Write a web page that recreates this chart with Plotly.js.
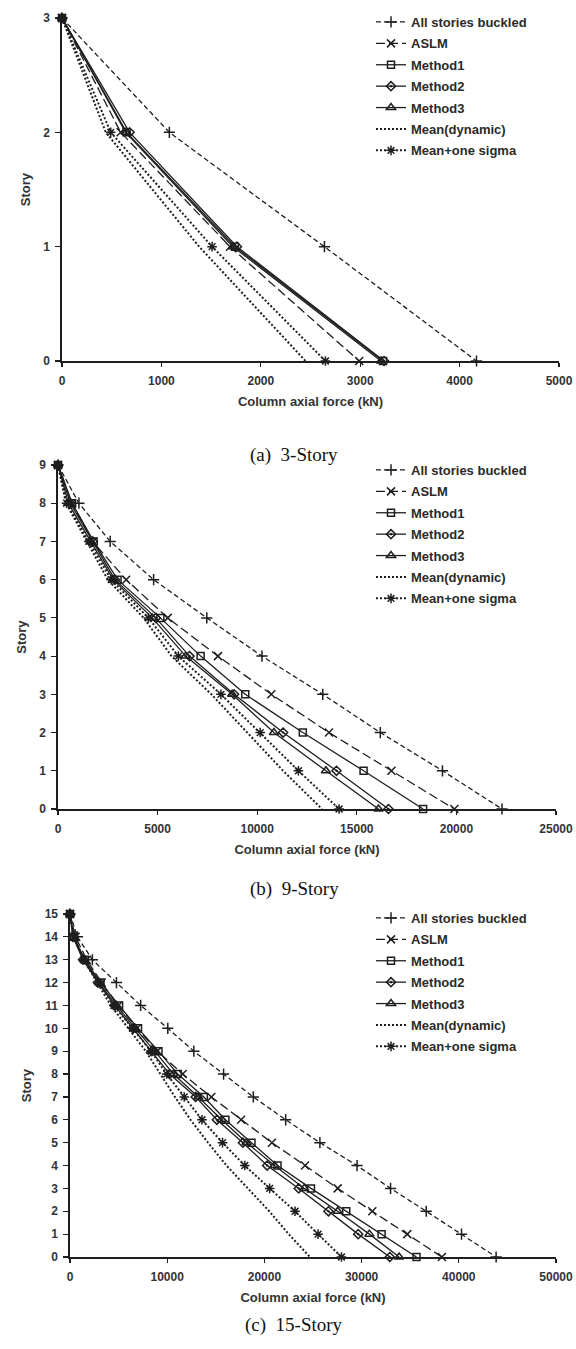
<!DOCTYPE html>
<html>
<head>
<meta charset="utf-8">
<script src="https://cdn.plot.ly/plotly-3.0.1.min.js"></script>
<style>html,body{margin:0;padding:0;background:#fff;}#chart{width:576px;height:1349px;}</style>
</head>
<body>
<div id="chart"></div>
<script>
// ---------- data ----------
const seriesNames = ["All stories buckled", "ASLM", "Method1", "Method2", "Method3", "Mean(dynamic)", "Mean+one sigma"];

// (a) 3-story
const storiesA = [3, 2, 1, 0];
const allA    = [0, 1080, 2640, 4170];
const aslmA   = [0, 590, 1690, 2990];
const m1A     = [0, 650, 1740, 3230];
const m2A     = [0, 680, 1760, 3240];
const m3A     = [0, 640, 1720, 3210];
const meanA   = [0, 440, 1380, 2450];
const sigmaA  = [0, 490, 1510, 2650];

// (b) 9-story
const storiesB = [9, 8, 7, 6, 5, 4, 3, 2, 1, 0];
const allB    = [0, 1050, 2620, 4800, 7470, 10240, 13290, 16180, 19300, 22290];
const aslmB   = [0, 700, 1740, 3420, 5510, 8030, 10710, 13600, 16740, 19900];
const m1B     = [0, 710, 1790, 2990, 5140, 7160, 9400, 12290, 15340, 18330];
const m2B     = [0, 620, 1740, 2860, 4910, 6600, 8840, 11300, 13980, 16590];
const m3B     = [0, 520, 1640, 2770, 4730, 6410, 8740, 10840, 13450, 16090];
const meanB   = [0, 400, 1450, 2500, 4300, 5700, 7700, 9500, 11300, 13250];
const sigmaB  = [0, 430, 1550, 2670, 4540, 6040, 8180, 10150, 12070, 14110];

// (c) 15-story
const storiesC = [15, 14, 13, 12, 11, 10, 9, 8, 7, 6, 5, 4, 3, 2, 1, 0];
const allC    = [0, 770, 2300, 4780, 7270, 10060, 12740, 15800, 18860, 22190, 25710, 29530, 32980, 36650, 40280, 43840];
const aslmC   = [0, 570, 1720, 3250, 4970, 6890, 8990, 11590, 14540, 17600, 20770, 24180, 27540, 31100, 34700, 38260];
const m1C     = [0, 380, 1530, 3140, 5050, 7000, 9100, 11090, 13770, 15990, 18670, 21350, 24790, 28420, 32060, 35650];
const m2C     = [0, 300, 1340, 2870, 4590, 6500, 8420, 10250, 12930, 15110, 17790, 20280, 23530, 26590, 29650, 32900];
const m3C     = [0, 380, 1450, 2980, 4780, 6700, 8720, 10640, 13200, 15610, 18170, 21040, 24100, 27540, 30800, 33860];
const meanC   = [0, 350, 1400, 2800, 4200, 6000, 7800, 9300, 10800, 12400, 14200, 16100, 18300, 20500, 22500, 24680];
const sigmaC  = [0, 380, 1450, 2980, 4510, 6430, 8340, 9950, 11750, 13580, 15690, 17980, 20540, 23150, 25520, 27930];

const xTicksA = [0, 1000, 2000, 3000, 4000, 5000];
const xTicksB = [0, 5000, 10000, 15000, 20000, 25000];
const xTicksC = [0, 10000, 20000, 30000, 40000, 50000];

const captions = ["(a)\u00a0\u00a03-Story", "(b)\u00a0\u00a09-Story", "(c)\u00a0\u00a015-Story"];
const xTitle = "Column axial force (kN)";
const yTitle = "Story";

// ---------- styles ----------
const C = '#1e1e1e';
const styles = [
  {dash: '5px,3px', symbol: 'cross-thin-open', size: 8, mode: 'lines+markers', width: 1.3},
  {dash: '9px,4px', symbol: 'x-thin-open', size: 8, mode: 'lines+markers', width: 1.3},
  {dash: 'solid', symbol: 'square-open', size: 7, mode: 'lines+markers', width: 1.3},
  {dash: 'solid', symbol: 'diamond-open-dot', size: 7, mode: 'lines+markers', width: 1.3},
  {dash: 'solid', symbol: 'triangle-up-open', size: 8, mode: 'lines+markers', width: 1.3},
  {dash: '2px,2px', symbol: 'circle', size: 1, mode: 'lines', width: 2},
  {dash: '2px,2px', symbol: 'asterisk-open', size: 8, mode: 'lines+markers', width: 2}
];

function makeTraces(stories, arrs, xa, ya, legendId) {
  return arrs.map((xs, i) => ({
    type: 'scatter',
    x: xs, y: stories,
    xaxis: xa, yaxis: ya,
    name: seriesNames[i],
    legend: legendId,
    legendgroup: legendId + '_' + i,
    mode: styles[i].mode,
    line: {color: C, width: styles[i].width, dash: styles[i].dash},
    marker: {symbol: styles[i].symbol, size: styles[i].size, color: C,
             line: {color: C, width: 1.5}},
    cliponaxis: false
  }));
}

const traces = [].concat(
  makeTraces(storiesA, [allA, aslmA, m1A, m2A, m3A, meanA, sigmaA], 'x', 'y', 'legend'),
  makeTraces(storiesB, [allB, aslmB, m1B, m2B, m3B, meanB, sigmaB], 'x2', 'y2', 'legend2'),
  makeTraces(storiesC, [allC, aslmC, m1C, m2C, m3C, meanC, sigmaC], 'x3', 'y3', 'legend3')
);

const H = 1349, W = 576;
const px = v => v / W;
const py = v => 1 - v / H;

function xAxis(domain, range, ticks, anchor) {
  return {
    domain: domain, range: range, anchor: anchor,
    tickvals: ticks, ticktext: ticks.map(String),
    showline: true, linecolor: C, linewidth: 1.6,
    showgrid: false, zeroline: false,
    ticks: 'outside', ticklen: 4, tickcolor: C, tickwidth: 1.2,
    ticklabelstandoff: 4,
    tickfont: {size: 12, color: '#333', weight: 'bold'},
    title: {text: xTitle, font: {size: 13, color: '#333', weight: 'bold'}, standoff: 10},
    automargin: false
  };
}
function yAxis(domain, range, n, anchor) {
  const t = [];
  for (let i = 0; i <= n; i++) t.push(i);
  return {
    domain: domain, range: range, anchor: anchor,
    tickvals: t,
    showline: true, linecolor: C, linewidth: 1.6,
    showgrid: false, zeroline: false,
    ticks: 'outside', ticklen: 5, tickcolor: C, tickwidth: 1.2,
    ticklabelstandoff: 3,
    tickfont: {size: 12, color: '#333', weight: 'bold'},
    title: {text: yTitle, font: {size: 13, color: '#333', weight: 'bold'}, standoff: 10},
    automargin: false
  };
}

function legendAt(topPx) {
  return {
    x: px(371), xanchor: 'left', y: py(topPx), yanchor: 'top',
    bgcolor: 'rgba(0,0,0,0)', borderwidth: 0,
    font: {size: 13, color: '#2a2a2a', weight: 'bold', family: 'Liberation Sans'},
    tracegroupgap: 1.5, itemwidth: 30
  };
}

const layout = {
  width: W, height: H,
  margin: {l: 0, r: 0, t: 0, b: 0},
  paper_bgcolor: '#fff', plot_bgcolor: '#fff',
  font: {family: 'Liberation Sans', size: 12, color: '#333'},
  xaxis: xAxis([px(62), px(559)], [0, 5000], xTicksA, 'y'),
  yaxis: yAxis([py(361), py(18)], [0, 3], 3, 'x'),
  xaxis2: xAxis([px(58), px(556)], [0, 25000], xTicksB, 'y2'),
  yaxis2: yAxis([py(809), py(465)], [0, 9], 9, 'x2'),
  xaxis3: xAxis([px(70), px(556)], [0, 50000], xTicksC, 'y3'),
  yaxis3: yAxis([py(1257), py(914)], [0, 15], 15, 'x3'),
  legend: legendAt(7),
  legend2: legendAt(455),
  legend3: legendAt(903),
  showlegend: true,
  annotations: [
    {text: captions[0], x: px(294), y: py(442), xref: 'paper', yref: 'paper', showarrow: false,
     font: {family: 'Liberation Serif', size: 19, color: '#111'}},
    {text: captions[1], x: px(294), y: py(889), xref: 'paper', yref: 'paper', showarrow: false,
     font: {family: 'Liberation Serif', size: 19, color: '#111'}},
    {text: captions[2], x: px(294), y: py(1338), xref: 'paper', yref: 'paper', showarrow: false,
     font: {family: 'Liberation Serif', size: 19, color: '#111'}}
  ]
};

Plotly.newPlot('chart', traces, layout, {displayModeBar: false, staticPlot: true});
</script>
</body>
</html>
